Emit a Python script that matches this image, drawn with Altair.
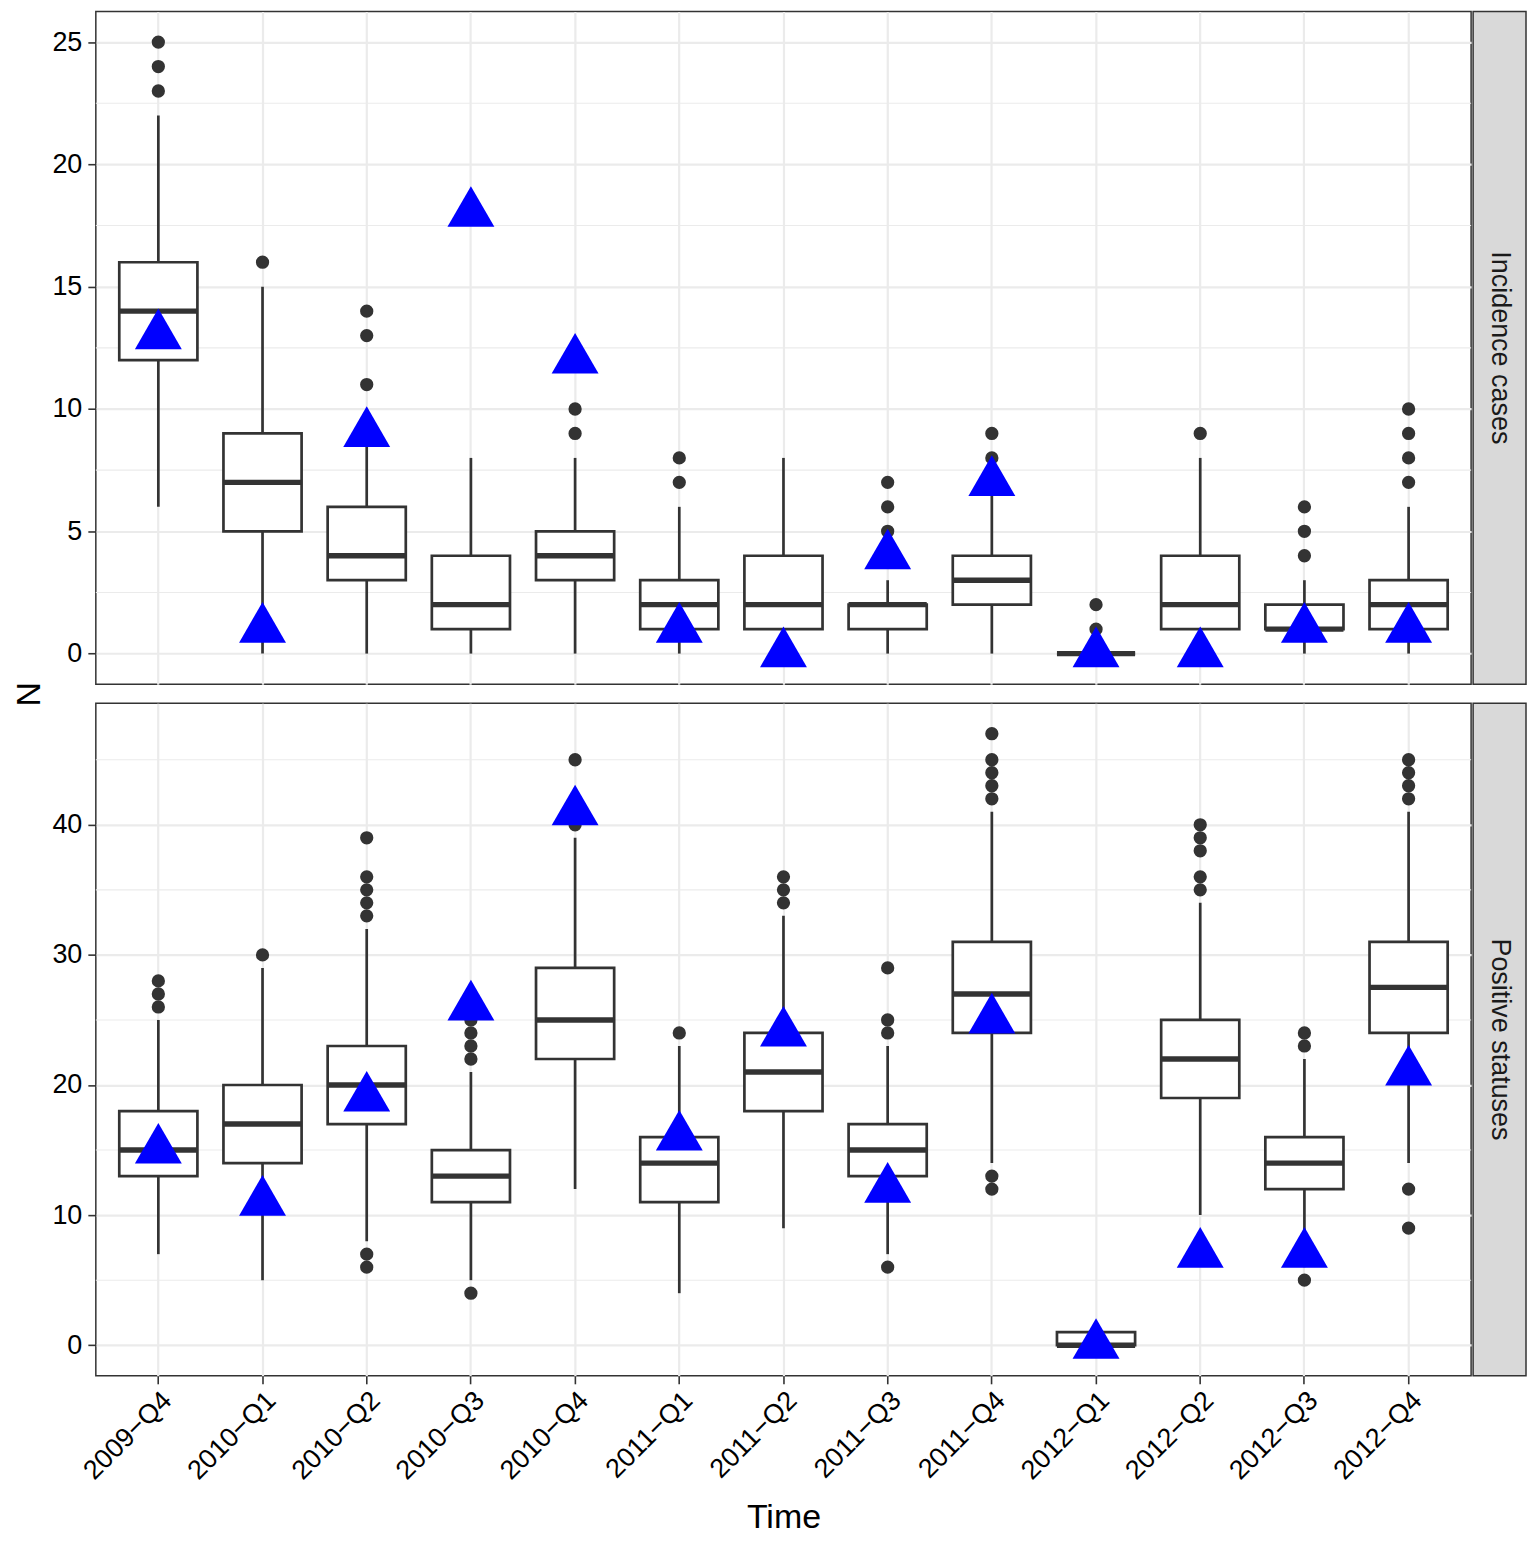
import altair as alt
import pandas as pd

# ---------------- data ----------------
times = ["2009-Q4", "2010-Q1", "2010-Q2", "2010-Q3", "2010-Q4", "2011-Q1", "2011-Q2",
         "2011-Q3", "2011-Q4", "2012-Q1", "2012-Q2", "2012-Q3", "2012-Q4"]

# Incidence cases
inc_lo = [6, 0, 0, 0, 0, 0, 0, 0, 0, 0, 0, 0, 0]
inc_q1 = [12, 5, 3, 1, 3, 1, 1, 1, 2, 0, 1, 1, 1]
inc_med = [14, 7, 4, 2, 4, 2, 2, 2, 3, 0, 2, 1, 2]
inc_q3 = [16, 9, 6, 4, 5, 3, 4, 2, 4, 0, 4, 2, 3]
inc_hi = [22, 15, 10, 8, 8, 6, 8, 3, 7, 0, 8, 3, 6]
inc_obs = [13, 1, 9, 18, 12, 1, 0, 4, 7, 0, 0, 1, 1]
inc_outliers = [[23, 24, 25], [16], [11, 13, 14], [], [9, 10], [7, 8], [],
                [4, 5, 6, 7], [8, 9], [1, 2], [9], [4, 5, 6], [7, 8, 9, 10]]

# Positive statuses
pos_lo = [7, 5, 8, 5, 12, 4, 9, 7, 14, 0, 10, 6, 14]
pos_q1 = [13, 14, 17, 11, 22, 11, 18, 13, 24, 0, 19, 12, 24]
pos_med = [15, 17, 20, 13, 25, 14, 21, 15, 27, 0, 22, 14, 27.5]
pos_q3 = [18, 20, 23, 15, 29, 16, 24, 17, 31, 1, 25, 16, 31]
pos_hi = [25, 29, 32, 21, 39, 23, 33, 23, 41, 1, 34, 22, 41]
pos_obs = [15, 11, 19, 26, 41, 16, 24, 12, 25, 0, 7, 7, 21]
pos_outliers = [[26, 27, 28], [30], [6, 7, 33, 34, 35, 36, 39], [4, 22, 23, 24, 25],
                [40, 45], [24], [34, 35, 36], [6, 24, 25, 29],
                [12, 13, 42, 43, 44, 45, 47], [], [35, 36, 38, 39, 40], [5, 23, 24],
                [9, 12, 42, 43, 44, 45]]

inc_major = [0, 5, 10, 15, 20, 25]
inc_minor = [2.5, 7.5, 12.5, 17.5, 22.5]
pos_major = [0, 10, 20, 30, 40]
pos_minor = [5, 15, 25, 35, 45]

# ---------------- style ----------------
W = 1378
H = 674
STEP = W / 13.2
BOXW = 0.75 * STEP
FONT = "Liberation Sans"
DARK = "#333333"
GRID = "#EBEBEB"
TRI = "M0,-1.155L1,0.577L-1,0.577Z"
TICKFS = 27
TITLEFS = 34


def panel(lo, q1, med, q3, hi, obs, outliers, domain, major, minor, strip_label, bottom):
    stats = pd.DataFrame({"time": times, "lo": lo, "q1": q1, "med": med, "q3": q3, "hi": hi})
    out_df = pd.DataFrame([(t, v) for t, vals in zip(times, outliers) for v in vals],
                          columns=["time", "v"])
    obs_df = pd.DataFrame({"time": times, "obs": obs})
    minor_df = pd.DataFrame({"m": minor})
    strip_df = pd.DataFrame({"label": [strip_label]})

    xscale = alt.Scale(type="band", domain=times, paddingInner=0, paddingOuter=0.1)
    if bottom:
        xaxis = alt.Axis(title="Time", labelAngle=-45, labelAlign="right", labelBaseline="top",
                         labelFontSize=TICKFS, labelColor="black", labelPadding=3,
                         labelExpr="replace(datum.label, '-', '\u2212')",
                         tickSize=8, tickColor=DARK, tickWidth=1.6, domain=False,
                         grid=True, gridColor=GRID, gridWidth=2.2, bandPosition=0.5,
                         titleFontSize=TITLEFS, titleColor="black", titleFontWeight="normal",
                         titleY=152, titleBaseline="alphabetic")
    else:
        xaxis = alt.Axis(title=None, labels=False, ticks=False, domain=False,
                         grid=True, gridColor=GRID, gridWidth=2.2, bandPosition=0.5)
    X = alt.X("time:N", scale=xscale, axis=xaxis)

    yscale = alt.Scale(domain=domain, nice=False, zero=False)
    yaxis_kw = dict(values=major, grid=True, gridColor=GRID, gridWidth=2.2,
                    tickSize=8, tickColor=DARK, tickWidth=1.6, labelFontSize=TICKFS,
                    labelColor="black", labelPadding=6, domain=False)
    if not bottom:
        yaxis = alt.Axis(title="N", titleFontSize=TITLEFS, titleColor="black",
                         titleFontWeight="normal", titleX=-66, titleY=H + 9.5,
                         titleAngle=270, titleAlign="center", titleBaseline="middle",
                         **yaxis_kw)
    else:
        yaxis = alt.Axis(title=None, **yaxis_kw)

    def Y(field):
        return alt.Y(field, type="quantitative", scale=yscale, axis=yaxis)

    minor_rules = alt.Chart(minor_df).mark_rule(color=GRID, strokeWidth=1.1).encode(y=Y("m"))
    whisk = alt.Chart(stats).mark_rule(color=DARK, strokeWidth=2.7).encode(
        x=X, y=Y("lo"), y2="hi:Q")
    box = alt.Chart(stats).mark_bar(fill="white", stroke=DARK, strokeWidth=2.7, opacity=1,
                                    width=alt.RelativeBandSize(0.75)).encode(
        x=X, y=Y("q1"), y2="q3:Q")
    median = alt.Chart(stats).mark_tick(color=DARK, thickness=5.4, size=BOXW, opacity=1).encode(
        x=X, y=Y("med"))
    outl = alt.Chart(out_df).mark_circle(size=177, color=DARK, opacity=1).encode(
        x=X, y=Y("v"))
    tri = alt.Chart(obs_df).mark_point(shape=TRI, size=2209, filled=True, color="#0000FF",
                                       opacity=1, strokeWidth=0).encode(x=X, y=Y("obs"))
    strip_rect = alt.Chart(strip_df).mark_rect(fill="#D9D9D9", stroke=DARK, strokeWidth=1.5).encode(
        x=alt.value(W + 2), x2=alt.value(W + 55), y=alt.value(0), y2=alt.value(H))
    strip_text = alt.Chart(strip_df).mark_text(angle=90, fontSize=TICKFS, color="#1A1A1A",
                                               align="center", baseline="middle", font=FONT).encode(
        text="label:N", x=alt.value(W + 28.5), y=alt.value(H / 2))

    return alt.layer(minor_rules, whisk, box, median, outl, tri, strip_rect, strip_text).properties(
        width=W, height=H)


top = panel(inc_lo, inc_q1, inc_med, inc_q3, inc_hi, inc_obs, inc_outliers,
            [-1.25, 26.25], inc_major, inc_minor, "Incidence cases", False)
bot = panel(pos_lo, pos_q1, pos_med, pos_q3, pos_hi, pos_obs, pos_outliers,
            [-2.35, 49.35], pos_major, pos_minor, "Positive statuses", True)

chart = alt.vconcat(top, bot, spacing=19, bounds="flush").properties(
    padding={"left": 4, "top": 0, "right": 0, "bottom": 0}, background="white"
).configure_view(stroke=DARK, strokeWidth=1.5).configure_axis(
    labelFont=FONT, titleFont=FONT
).configure_text(font=FONT)

chart.save("out.html", embed_options={"renderer": "svg", "actions": False})
